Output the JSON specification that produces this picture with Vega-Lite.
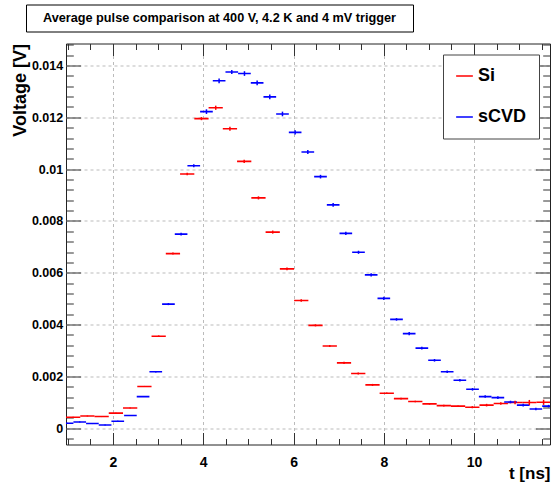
{
  "$schema": "https://vega.github.io/schema/vega-lite/v6.json",
  "background": "white",
  "padding": {"left": 10, "top": 3.5, "right": 0, "bottom": 0},
  "spacing": 5,
  "bounds": "full",
  "resolve": {"scale": {"color": "independent"}, "legend": {"color": "independent"}},
  "config": {
    "font": "Liberation Sans",
    "view": {"stroke": "#222", "strokeWidth": 1}
  },
  "vconcat": [
    {
      "width": 387,
      "height": 27,
      "view": {"stroke": "black", "strokeWidth": 1, "fill": "white"},
      "data": {"values": [{"title": "Average pulse comparison at 400 V, 4.2 K and 4 mV trigger"}]},
      "mark": {"type": "text", "font": "Liberation Sans", "fontWeight": "bold", "fontSize": 12.7, "color": "black"},
      "encoding": {
        "text": {"field": "title"}
      }
    },
    {
      "bounds": "flush",
      "spacing": 0,
      "resolve": {"scale": {"color": "independent"}, "legend": {"color": "independent"}},
      "hconcat": [
        {
          "width": 39.3,
          "height": 10,
          "view": {"stroke": null},
          "data": {"values": []},
          "mark": {"type": "point", "opacity": 0}
        },
        {
          "width": 484,
          "height": 401,
          "data": {"values": [
            {"s": "Si", "t0": 0.959, "t1": 1.275, "tc": 1.117, "v": 0.00042, "e": 0.00002},
            {"s": "Si", "t0": 1.275, "t1": 1.590, "tc": 1.433, "v": 0.00047, "e": 0.00002},
            {"s": "Si", "t0": 1.590, "t1": 1.906, "tc": 1.748, "v": 0.00045, "e": 0.00002},
            {"s": "Si", "t0": 1.906, "t1": 2.222, "tc": 2.064, "v": 0.00058, "e": 0.00002},
            {"s": "Si", "t0": 2.222, "t1": 2.538, "tc": 2.380, "v": 0.00078, "e": 0.00002},
            {"s": "Si", "t0": 2.538, "t1": 2.854, "tc": 2.696, "v": 0.00161, "e": 0.00002},
            {"s": "Si", "t0": 2.854, "t1": 3.170, "tc": 3.012, "v": 0.00355, "e": 0.00003},
            {"s": "Si", "t0": 3.170, "t1": 3.486, "tc": 3.328, "v": 0.00674, "e": 0.00004},
            {"s": "Si", "t0": 3.486, "t1": 3.802, "tc": 3.644, "v": 0.00981, "e": 0.00005},
            {"s": "Si", "t0": 3.802, "t1": 4.118, "tc": 3.960, "v": 0.01195, "e": 0.00006},
            {"s": "Si", "t0": 4.118, "t1": 4.433, "tc": 4.276, "v": 0.01237, "e": 0.00008},
            {"s": "Si", "t0": 4.433, "t1": 4.749, "tc": 4.591, "v": 0.01156, "e": 0.00008},
            {"s": "Si", "t0": 4.749, "t1": 5.065, "tc": 4.907, "v": 0.0103, "e": 0.00006},
            {"s": "Si", "t0": 5.065, "t1": 5.381, "tc": 5.223, "v": 0.00889, "e": 0.00006},
            {"s": "Si", "t0": 5.381, "t1": 5.697, "tc": 5.539, "v": 0.00757, "e": 0.00006},
            {"s": "Si", "t0": 5.697, "t1": 6.013, "tc": 5.855, "v": 0.00615, "e": 0.00005},
            {"s": "Si", "t0": 6.013, "t1": 6.329, "tc": 6.171, "v": 0.00493, "e": 0.00005},
            {"s": "Si", "t0": 6.329, "t1": 6.645, "tc": 6.487, "v": 0.00397, "e": 0.00004},
            {"s": "Si", "t0": 6.645, "t1": 6.961, "tc": 6.803, "v": 0.00317, "e": 0.00004},
            {"s": "Si", "t0": 6.961, "t1": 7.276, "tc": 7.119, "v": 0.00252, "e": 0.00004},
            {"s": "Si", "t0": 7.276, "t1": 7.592, "tc": 7.434, "v": 0.00211, "e": 0.00004},
            {"s": "Si", "t0": 7.592, "t1": 7.908, "tc": 7.750, "v": 0.00167, "e": 0.00004},
            {"s": "Si", "t0": 7.908, "t1": 8.224, "tc": 8.066, "v": 0.00135, "e": 0.00003},
            {"s": "Si", "t0": 8.224, "t1": 8.540, "tc": 8.382, "v": 0.00114, "e": 0.00003},
            {"s": "Si", "t0": 8.540, "t1": 8.856, "tc": 8.698, "v": 0.00103, "e": 0.00003},
            {"s": "Si", "t0": 8.856, "t1": 9.172, "tc": 9.014, "v": 0.00094, "e": 0.00003},
            {"s": "Si", "t0": 9.172, "t1": 9.488, "tc": 9.330, "v": 0.00087, "e": 0.00003},
            {"s": "Si", "t0": 9.488, "t1": 9.804, "tc": 9.646, "v": 0.00085, "e": 0.00003},
            {"s": "Si", "t0": 9.804, "t1": 10.120, "tc": 9.962, "v": 0.00081, "e": 0.00004},
            {"s": "Si", "t0": 10.120, "t1": 10.435, "tc": 10.278, "v": 0.00089, "e": 0.00005},
            {"s": "Si", "t0": 10.435, "t1": 10.751, "tc": 10.593, "v": 0.00095, "e": 0.00005},
            {"s": "Si", "t0": 10.751, "t1": 11.067, "tc": 10.909, "v": 0.00099, "e": 0.00007},
            {"s": "Si", "t0": 11.067, "t1": 11.383, "tc": 11.225, "v": 0.00099, "e": 0.0001},
            {"s": "Si", "t0": 11.383, "t1": 11.699, "tc": 11.541, "v": 0.001, "e": 0.0001},
            {"s": "sCVD", "t0": 0.842, "t1": 1.123, "tc": 0.982, "v": 0.00019, "e": 0.00002},
            {"s": "sCVD", "t0": 1.123, "t1": 1.403, "tc": 1.263, "v": 0.00024, "e": 0.00002},
            {"s": "sCVD", "t0": 1.403, "t1": 1.684, "tc": 1.544, "v": 0.00018, "e": 0.00002},
            {"s": "sCVD", "t0": 1.684, "t1": 1.965, "tc": 1.825, "v": 0.00012, "e": 0.00002},
            {"s": "sCVD", "t0": 1.965, "t1": 2.246, "tc": 2.105, "v": 0.00027, "e": 0.00002},
            {"s": "sCVD", "t0": 2.246, "t1": 2.526, "tc": 2.386, "v": 0.00049, "e": 0.00002},
            {"s": "sCVD", "t0": 2.526, "t1": 2.807, "tc": 2.667, "v": 0.00122, "e": 0.00002},
            {"s": "sCVD", "t0": 2.807, "t1": 3.088, "tc": 2.948, "v": 0.00218, "e": 0.00003},
            {"s": "sCVD", "t0": 3.088, "t1": 3.369, "tc": 3.228, "v": 0.00479, "e": 0.00004},
            {"s": "sCVD", "t0": 3.369, "t1": 3.649, "tc": 3.509, "v": 0.00749, "e": 0.00005},
            {"s": "sCVD", "t0": 3.649, "t1": 3.930, "tc": 3.790, "v": 0.01013, "e": 0.00006},
            {"s": "sCVD", "t0": 3.930, "t1": 4.211, "tc": 4.071, "v": 0.01222, "e": 0.00009},
            {"s": "sCVD", "t0": 4.211, "t1": 4.492, "tc": 4.351, "v": 0.01341, "e": 0.00009},
            {"s": "sCVD", "t0": 4.492, "t1": 4.772, "tc": 4.632, "v": 0.01375, "e": 0.00008},
            {"s": "sCVD", "t0": 4.772, "t1": 5.053, "tc": 4.913, "v": 0.01369, "e": 0.00009},
            {"s": "sCVD", "t0": 5.053, "t1": 5.334, "tc": 5.194, "v": 0.01333, "e": 0.00009},
            {"s": "sCVD", "t0": 5.334, "t1": 5.615, "tc": 5.474, "v": 0.01279, "e": 0.00009},
            {"s": "sCVD", "t0": 5.615, "t1": 5.896, "tc": 5.755, "v": 0.01213, "e": 0.00009},
            {"s": "sCVD", "t0": 5.896, "t1": 6.176, "tc": 6.036, "v": 0.01142, "e": 0.00008},
            {"s": "sCVD", "t0": 6.176, "t1": 6.457, "tc": 6.317, "v": 0.01066, "e": 0.00008},
            {"s": "sCVD", "t0": 6.457, "t1": 6.738, "tc": 6.598, "v": 0.00971, "e": 0.00007},
            {"s": "sCVD", "t0": 6.738, "t1": 7.019, "tc": 6.878, "v": 0.00862, "e": 0.00007},
            {"s": "sCVD", "t0": 7.019, "t1": 7.299, "tc": 7.159, "v": 0.00752, "e": 0.00006},
            {"s": "sCVD", "t0": 7.299, "t1": 7.580, "tc": 7.440, "v": 0.00679, "e": 0.00006},
            {"s": "sCVD", "t0": 7.580, "t1": 7.861, "tc": 7.720, "v": 0.00592, "e": 0.00006},
            {"s": "sCVD", "t0": 7.861, "t1": 8.141, "tc": 8.001, "v": 0.00501, "e": 0.00006},
            {"s": "sCVD", "t0": 8.141, "t1": 8.422, "tc": 8.282, "v": 0.0042, "e": 0.00005},
            {"s": "sCVD", "t0": 8.422, "t1": 8.703, "tc": 8.563, "v": 0.00365, "e": 0.00006},
            {"s": "sCVD", "t0": 8.703, "t1": 8.984, "tc": 8.843, "v": 0.00309, "e": 0.00005},
            {"s": "sCVD", "t0": 8.984, "t1": 9.264, "tc": 9.124, "v": 0.00262, "e": 0.00005},
            {"s": "sCVD", "t0": 9.264, "t1": 9.545, "tc": 9.405, "v": 0.00218, "e": 0.00005},
            {"s": "sCVD", "t0": 9.545, "t1": 9.826, "tc": 9.686, "v": 0.00185, "e": 0.00005},
            {"s": "sCVD", "t0": 9.826, "t1": 10.107, "tc": 9.966, "v": 0.0015, "e": 0.00005},
            {"s": "sCVD", "t0": 10.107, "t1": 10.387, "tc": 10.247, "v": 0.00122, "e": 0.00005},
            {"s": "sCVD", "t0": 10.387, "t1": 10.668, "tc": 10.528, "v": 0.00118, "e": 0.00005},
            {"s": "sCVD", "t0": 10.668, "t1": 10.949, "tc": 10.808, "v": 0.00101, "e": 0.00005},
            {"s": "sCVD", "t0": 10.949, "t1": 11.230, "tc": 11.089, "v": 0.00089, "e": 0.00005},
            {"s": "sCVD", "t0": 11.230, "t1": 11.510, "tc": 11.370, "v": 0.00074, "e": 0.00005},
            {"s": "sCVD", "t0": 11.510, "t1": 11.791, "tc": 11.651, "v": 0.00085, "e": 0.00005}
          ]},
          "layer": [
            {
              "mark": {"type": "rule", "clip": true, "strokeWidth": 1.6},
              "encoding": {
                "x": {
                  "field": "t0", "type": "quantitative",
                  "scale": {"domain": [0.9586, 11.683], "nice": false, "zero": false},
                  "axis": {
                    "orient": "bottom",
                    "values": [1, 1.5, 2, 2.5, 3, 3.5, 4, 4.5, 5, 5.5, 6, 6.5, 7, 7.5, 8, 8.5, 9, 9.5, 10, 10.5, 11, 11.5],
                    "domain": false,
                    "tickColor": "#333",
                    "tickWidth": 1,
                    "tickSize": {"condition": {"test": "datum.value % 2 === 0", "value": -12}, "value": -6},
                    "grid": true,
                    "gridColor": "#bbbbbb",
                    "gridDash": [3, 3],
                    "gridOpacity": {"condition": {"test": "datum.value % 2 === 0", "value": 1}, "value": 0},
                    "labelExpr": "datum.value % 2 === 0 ? format(datum.value, '~g') : ''",
                    "labelFlush": false,
                    "labelOverlap": false,
                    "labelFont": "Liberation Sans",
                    "labelFontWeight": "bold",
                    "labelFontSize": 14,
                    "labelColor": "black",
                    "labelPadding": 23,
                    "title": "t [ns]",
                    "titleFont": "Liberation Sans",
                    "titleFontWeight": "bold",
                    "titleFontSize": 17,
                    "titleColor": "black",
                    "titleAlign": "right",
                    "titleBaseline": "alphabetic",
                    "titleX": 484,
                    "titleY": 34
                  }
                },
                "x2": {"field": "t1"},
                "y": {
                  "field": "v", "type": "quantitative",
                  "scale": {"domain": [-0.00063, 0.01485], "nice": false, "zero": false},
                  "axis": {
                    "orient": "left",
                    "values": [-0.0004, 0, 0.0004, 0.0008, 0.0012, 0.0016, 0.002, 0.0024, 0.0028, 0.0032, 0.0036, 0.004, 0.0044, 0.0048, 0.0052, 0.0056, 0.006, 0.0064, 0.0068, 0.0072, 0.0076, 0.008, 0.0084, 0.0088, 0.0092, 0.0096, 0.01, 0.0104, 0.0108, 0.0112, 0.0116, 0.012, 0.0124, 0.0128, 0.0132, 0.0136, 0.014, 0.0144, 0.0148],
                    "domain": false,
                    "tickColor": "#333",
                    "tickWidth": 1,
                    "tickSize": {"condition": {"test": "abs(datum.value * 500 - round(datum.value * 500)) < 0.001", "value": -14.5}, "value": -7.3},
                    "grid": true,
                    "gridColor": "#bbbbbb",
                    "gridDash": [3, 3],
                    "gridOpacity": {"condition": {"test": "abs(datum.value * 500 - round(datum.value * 500)) < 0.001", "value": 1}, "value": 0},
                    "labelExpr": "abs(datum.value * 500 - round(datum.value * 500)) < 0.001 ? format(datum.value, '~g') : ''",
                    "labelOverlap": false,
                    "labelFlush": false,
                    "labelFont": "Liberation Sans",
                    "labelFontWeight": "bold",
                    "labelFontSize": 12.5,
                    "labelColor": "black",
                    "labelPadding": 17.8,
                    "title": "Voltage [V]",
                    "titleFont": "Liberation Sans",
                    "titleFontWeight": "bold",
                    "titleFontSize": 18,
                    "titleColor": "black",
                    "titleAngle": 270,
                    "titleAlign": "right",
                    "titleBaseline": "alphabetic",
                    "titleX": -41,
                    "titleY": 0
                  }
                },
                "color": {
                  "field": "s", "type": "nominal",
                  "scale": {"domain": ["Si", "sCVD"], "range": ["#ff0000", "#0000ff"]},
                  "legend": {
                    "orient": "top-right",
                    "offset": 11,
                    "title": null,
                    "strokeColor": "#444",
                    "fillColor": "white",
                    "padding": 12,
                    "cornerRadius": 0,
                    "symbolType": "stroke",
                    "symbolSize": 280,
                    "symbolStrokeWidth": 1.5,
                    "labelFont": "Liberation Sans",
                    "labelFontWeight": "bold",
                    "labelFontSize": 18,
                    "labelColor": "black",
                    "labelOffset": 4,
                    "rowPadding": 22
                  }
                }
              }
            },
            {
              "mark": {"type": "errorbar", "ticks": false, "rule": {"strokeWidth": 1.5}},
              "encoding": {
                "x": {
                  "field": "tc", "type": "quantitative",
                  "scale": {"domain": [0.9586, 11.683], "nice": false, "zero": false},
                  "axis": {
                    "orient": "top",
                    "values": [1, 1.5, 2, 2.5, 3, 3.5, 4, 4.5, 5, 5.5, 6, 6.5, 7, 7.5, 8, 8.5, 9, 9.5, 10, 10.5, 11, 11.5],
                    "domain": false,
                    "labels": false,
                    "grid": false,
                    "title": null,
                    "tickColor": "#333",
                    "tickWidth": 1,
                    "tickSize": {"condition": {"test": "datum.value % 2 === 0", "value": -12}, "value": -6}
                  }
                },
                "y": {
                  "field": "v", "type": "quantitative",
                  "scale": {"domain": [-0.00063, 0.01485], "nice": false, "zero": false},
                  "axis": {
                    "orient": "right",
                    "values": [-0.0004, 0, 0.0004, 0.0008, 0.0012, 0.0016, 0.002, 0.0024, 0.0028, 0.0032, 0.0036, 0.004, 0.0044, 0.0048, 0.0052, 0.0056, 0.006, 0.0064, 0.0068, 0.0072, 0.0076, 0.008, 0.0084, 0.0088, 0.0092, 0.0096, 0.01, 0.0104, 0.0108, 0.0112, 0.0116, 0.012, 0.0124, 0.0128, 0.0132, 0.0136, 0.014, 0.0144, 0.0148],
                    "domain": false,
                    "labels": false,
                    "grid": false,
                    "title": null,
                    "tickColor": "#333",
                    "tickWidth": 1,
                    "tickSize": {"condition": {"test": "abs(datum.value * 500 - round(datum.value * 500)) < 0.001", "value": -14.5}, "value": -7.3}
                  }
                },
                "yError": {"field": "e"},
                "color": {"field": "s", "type": "nominal", "scale": {"domain": ["Si", "sCVD"], "range": ["#ff0000", "#0000ff"]}, "legend": null}
              }
            }
          ]
        }
      ]
    }
  ]
}
